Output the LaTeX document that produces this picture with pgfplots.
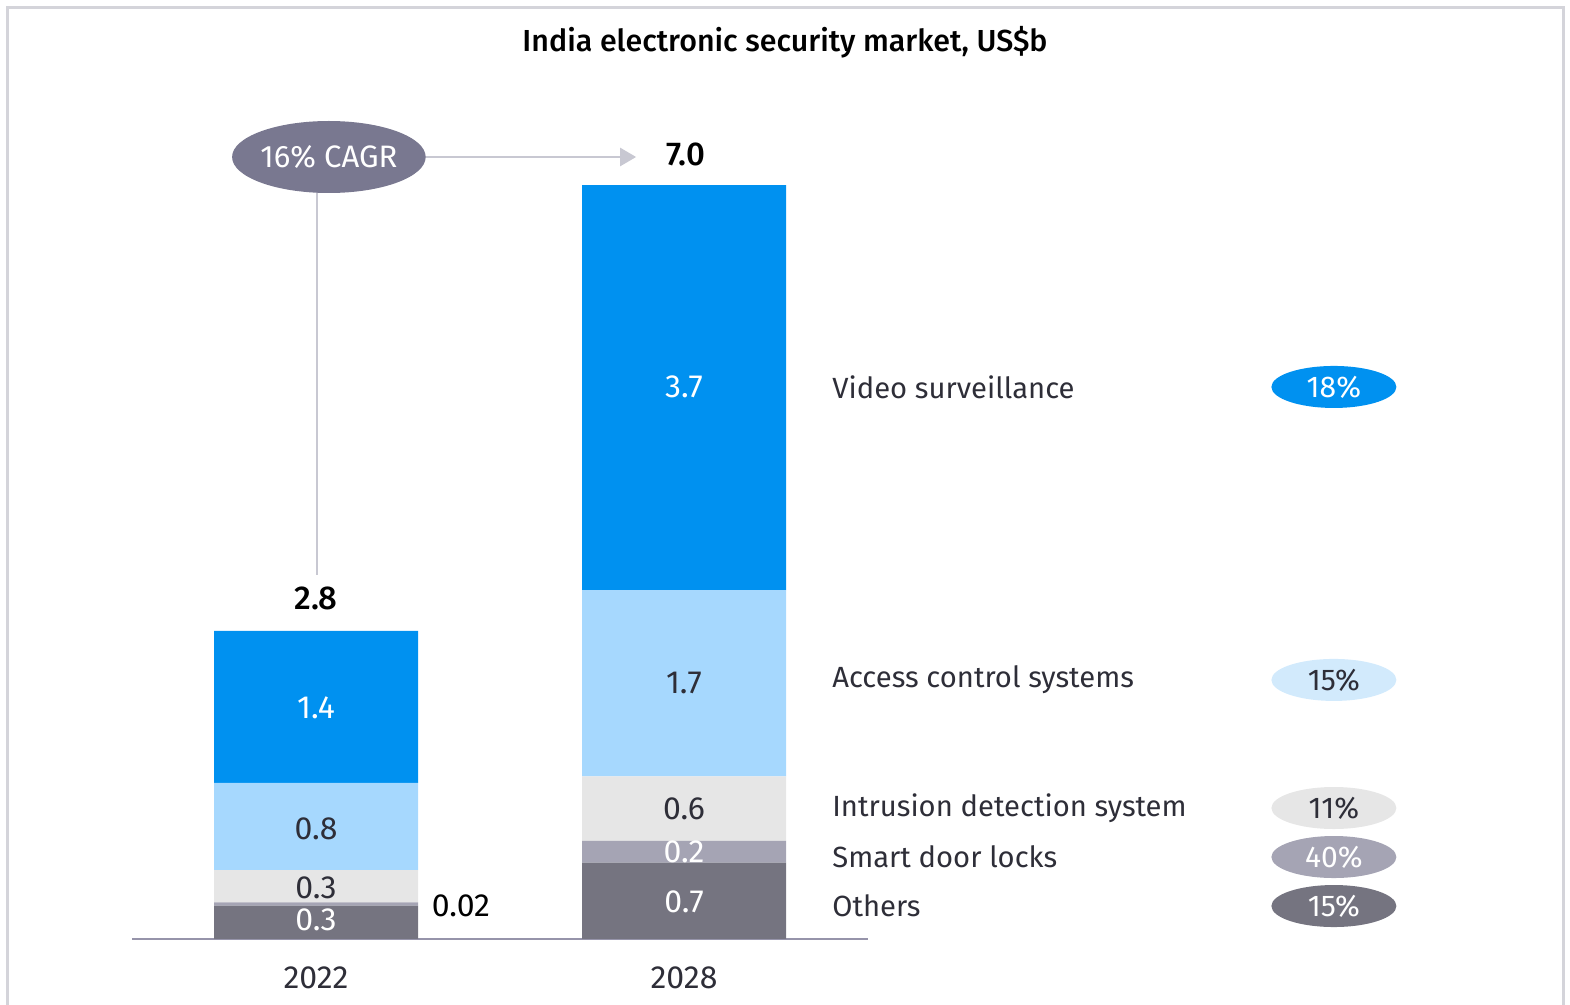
\documentclass[border=0pt]{standalone}
\usepackage{fontspec}
\setmainfont{Fira Sans}[BoldFont={Fira Sans Medium}]
\usepackage{pgfplots}
\pgfplotsset{compat=1.18}
\usetikzlibrary{arrows.meta,shapes.geometric}
\definecolor{cVideo}{RGB}{0,145,240}
\definecolor{cAccess}{RGB}{166,216,254}
\definecolor{cIntr}{RGB}{230,230,230}
\definecolor{cSmart}{RGB}{165,164,180}
\definecolor{cOther}{RGB}{117,116,128}
\definecolor{cCagr}{RGB}{121,120,144}
\definecolor{cArrow}{RGB}{200,200,210}
\definecolor{cAxis}{RGB}{150,148,170}
\definecolor{cText}{RGB}{46,46,56}
\definecolor{cPillAcc}{RGB}{210,234,252}
\definecolor{cBorder}{RGB}{212,212,218}
\begin{document}
\begin{tikzpicture}[x=0.5pt,y=0.5pt]
\path[use as bounding box] (0,0) rectangle (1570,1005);
\draw[cBorder,line width=1.5pt] (7,-5) -- (7,997) -- (1563,997) -- (1563,-5);
\node[font=\fontsize{15.2}{17}\selectfont\bfseries, text=black] at (785,963) {India electronic security market, US\$b};
\begin{axis}[
  at={(66pt,33pt)}, anchor=south west,
  scale only axis, width=368pt, height=377pt,
  xmin=-0.5, xmax=1.5, ymin=0, ymax=7,
  clip=false,
  ybar stacked, bar width=102pt,
  axis x line=bottom, axis y line=none,
  axis line style={cAxis, line width=0.8pt, -},
  xtick={0,1}, xticklabels={2022,2028},
  major tick length=0pt,
  xticklabel style={font=\fontsize{16}{18}\selectfont, text=cText, anchor=center, yshift=-19.5pt},
  /pgf/number format/assume math mode=true,
  ytick=\empty,
]
\addplot[fill=cOther, draw=none] coordinates {(0,0.31) (1,0.71)};
\addplot[fill=cSmart, draw=none] coordinates {(0,0.03) (1,0.20)};
\addplot[fill=cIntr, draw=none] coordinates {(0,0.30) (1,0.60)};
\addplot[fill=cAccess, draw=none] coordinates {(0,0.81) (1,1.73)};
\addplot[fill=cVideo, draw=none] coordinates {(0,1.41) (1,3.76)};
% anchor coordinates
\coordinate (a1) at (axis cs:0,2.145);
\coordinate (a2) at (axis cs:0,1.021);
\coordinate (a3) at (axis cs:0,0.473);
\coordinate (a4) at (axis cs:0,0.176);
\coordinate (a5) at (axis cs:0.394,0.306);
\coordinate (b1) at (axis cs:1,5.125);
\coordinate (b2) at (axis cs:1,2.377);
\coordinate (b3) at (axis cs:1,1.207);
\coordinate (b4) at (axis cs:1,0.808);
\coordinate (b5) at (axis cs:1,0.343);
\coordinate (t1) at (axis cs:0,3.166);
\coordinate (t2) at (axis cs:1.005,7.28);
\coordinate (v1) at (axis cs:0.003,7.0);
\coordinate (v2) at (axis cs:0.003,3.38);
\coordinate (h1) at (axis cs:0.296,7.26);
\coordinate (h2) at (axis cs:0.870,7.26);
\coordinate (cg) at (axis cs:0.035,7.26);
\coordinate (l1) at (axis cs:1.402,5.125);
\coordinate (l2) at (axis cs:1.402,2.405);
\coordinate (l3) at (axis cs:1.402,1.216);
\coordinate (l4) at (axis cs:1.402,0.761);
\coordinate (l5) at (axis cs:1.402,0.306);
\coordinate (p1) at (axis cs:2.766,5.125);
\coordinate (p2) at (axis cs:2.766,2.405);
\coordinate (p3) at (axis cs:2.766,1.216);
\coordinate (p4) at (axis cs:2.766,0.761);
\coordinate (p5) at (axis cs:2.766,0.306);
\end{axis}
\tikzset{lbl/.style={font=\fontsize{16}{18}\selectfont, inner sep=0pt}}
\node[lbl, text=white] at (a1) {1.4};
\node[lbl, text=cText] at (a2) {0.8};
\node[lbl, text=cText] at (a3) {0.3};
\node[lbl, text=white] at (a4) {0.3};
\node[lbl, text=black] at (a5) {0.02};
\node[lbl, text=white] at (b1) {3.7};
\node[lbl, text=cText] at (b2) {1.7};
\node[lbl, text=cText] at (b3) {0.6};
\node[lbl, text=white] at (b4) {0.2};
\node[lbl, text=white] at (b5) {0.7};
\node[lbl, text=black, font=\fontsize{16.5}{18}\selectfont\bfseries] at (t1) {2.8};
\node[lbl, text=black, font=\fontsize{16.5}{18}\selectfont\bfseries] at (t2) {7.0};
\draw[cArrow, line width=1.2pt] (v1) -- (v2);
\draw[cArrow, line width=1.2pt, -{Triangle[length=8pt,width=9pt]}] (h1) -- (h2);
\node[ellipse, fill=cCagr, minimum width=96.5pt, minimum height=36pt, inner sep=0pt, text=white, font=\fontsize{15.5}{17}\selectfont] at (cg) {16\% CAGR};
\tikzset{leg/.style={font=\fontsize{14.6}{16}\selectfont, text=cText, anchor=west, inner sep=0pt},
         pill/.style={ellipse, minimum width=62.5pt, minimum height=21pt, inner sep=0pt, font=\fontsize{15}{17}\selectfont}}
\node[leg] at (l1) {Video surveillance};
\node[leg] at (l2) {Access control systems};
\node[leg] at (l3) {Intrusion detection system};
\node[leg] at (l4) {Smart door locks};
\node[leg] at (l5) {Others};
\node[pill, fill=cVideo, text=white] at (p1) {18\%};
\node[pill, fill=cPillAcc, text=cText] at (p2) {15\%};
\node[pill, fill=cIntr, text=cText] at (p3) {11\%};
\node[pill, fill=cSmart, text=white] at (p4) {40\%};
\node[pill, fill=cOther, text=white] at (p5) {15\%};
\end{tikzpicture}
\end{document}
